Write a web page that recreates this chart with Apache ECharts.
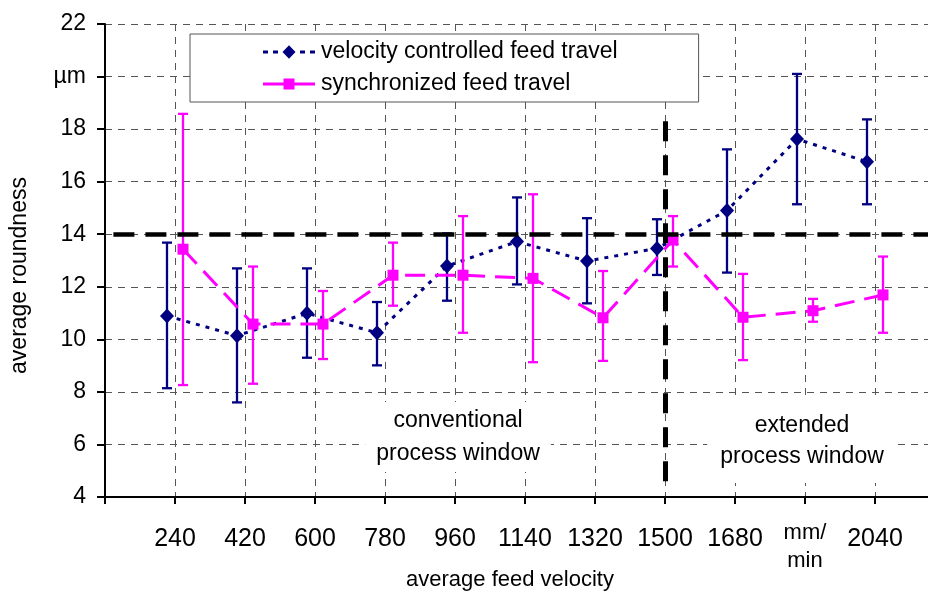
<!DOCTYPE html>
<html>
<head>
<meta charset="utf-8">
<script src="https://cdn.jsdelivr.net/npm/echarts@6/dist/echarts.min.js"></script>
<style>
  html, body { margin: 0; padding: 0; background: #fff; }
  #chart { width: 928px; height: 594px; }
</style>
</head>
<body>
<div id="chart"></div>
<script>
// ---------------- data ----------------
const categories = ['240', '420', '600', '780', '960', '1140', '1320', '1500', '1680', '1860', '2040'];
const xTickLabels = ['240', '420', '600', '780', '960', '1140', '1320', '1500', '1680', 'mm/\nmin', '2040'];
const yTicks = [4, 6, 8, 10, 12, 14, 16, 18, 20, 22];
const yTickLabels = ['4', '6', '8', '10', '12', '14', '16', '18', 'µm', '22'];

const velocityName = 'velocity controlled feed travel';
const velocityMean = [10.89, 10.14, 10.99, 10.25, 12.79, 13.72, 12.98, 13.46, 14.90, 17.62, 16.76];
const velocityLow  = [8.14, 7.60, 9.30, 9.01, 11.47, 12.09, 11.37, 12.45, 12.54, 15.14, 15.14];
const velocityHigh = [13.68, 12.70, 12.70, 11.42, 14.03, 15.40, 14.61, 14.57, 17.23, 20.10, 18.37];

const syncName = 'synchronized feed travel';
const syncMean = [13.43, 10.58, 10.58, 12.44, 12.44, 12.32, 10.82, 13.78, 10.84, 11.09, 11.69];
const syncLow  = [8.26, 8.31, 9.25, 11.28, 10.25, 9.13, 9.18, 12.77, 9.21, 10.67, 10.25];
const syncHigh = [18.58, 12.77, 11.84, 13.68, 14.69, 15.52, 12.60, 14.69, 12.49, 11.54, 13.15];

const roundnessLimit = 14;               // horizontal reference line value
const windowSplitCategory = '1500';      // vertical boundary between process windows
const windowSplitRange = [4.3, 18.3];    // vertical extent of that boundary line

// ---------------- chart ----------------
const FONT = 'Liberation Sans, Arial, Helvetica, sans-serif';
const NAVY = '#000080';
const MAGENTA = '#FF00FF';

function buildData(mean, low, high) {
  return categories.map((c, i) => [i, mean[i], low[i], high[i]]);
}

function makeRender(mean, color, offset, marker, lineDash, lineWidth) {
  return function (params, api) {
    const idx = params.dataIndex;
    const xi = api.value(0);
    const c = api.coord([xi, api.value(1)]);
    const lo = api.coord([xi, api.value(2)]);
    const hi = api.coord([xi, api.value(3)]);
    const x = c[0] + offset;
    const y = c[1];
    const children = [];
    if (idx === 0) {
      const pts = mean.map((v, k) => {
        const p = api.coord([k, v]);
        return [p[0] + offset, p[1]];
      });
      children.push({
        type: 'polyline', z2: 0,
        shape: { points: pts },
        style: { stroke: color, lineWidth: lineWidth, lineDash: lineDash, fill: null }
      });
    }
    const eb = { stroke: color, lineWidth: 2.3 };
    children.push({ type: 'line', z2: 1, shape: { x1: x, y1: hi[1], x2: x, y2: lo[1] }, style: eb });
    children.push({ type: 'line', z2: 1, shape: { x1: x - 5, y1: hi[1], x2: x + 5, y2: hi[1] }, style: eb });
    children.push({ type: 'line', z2: 1, shape: { x1: x - 5, y1: lo[1], x2: x + 5, y2: lo[1] }, style: eb });
    if (marker === 'diamond') {
      children.push({
        type: 'polygon', z2: 2,
        shape: { points: [[x, y - 7.5], [x + 7, y], [x, y + 7.5], [x - 7, y]] },
        style: { fill: color }
      });
    } else {
      children.push({
        type: 'rect', z2: 2,
        shape: { x: x - 5.5, y: y - 5.5, width: 11, height: 11 },
        style: { fill: color }
      });
    }
    return { type: 'group', children: children };
  };
}

const splitIndex = categories.indexOf(windowSplitCategory);

const chart = echarts.init(document.getElementById('chart'), null, { renderer: 'canvas' });

const option = {
  animation: false,
  backgroundColor: '#fff',
  textStyle: { fontFamily: FONT, color: '#000' },
  grid: { left: 105, top: 24, width: 840, bottom: 97, containLabel: false, outerBoundsMode: 'none' },
  legend: {
    orient: 'vertical',
    left: 190, top: 34,
    padding: [5, 81, 5, 73],
    backgroundColor: '#fff',
    borderColor: '#555',
    borderWidth: 1,
    itemWidth: 54, itemHeight: 14,
    itemGap: 6,
    selectedMode: false,
    textStyle: { fontFamily: FONT, fontSize: 23, color: '#000', lineHeight: 26 },
    data: [
      {
        name: velocityName,
        icon: 'path://M0,0h0.01v0.01h-0.01z M0,5.5h5v3h-5z M10,5.5h5v3h-5z M26,0.3L32.5,7L26,13.7L19.5,7z M37,5.5h5v3h-5z M47,5.5h5v3h-5z M52,14h-0.01v-0.01h0.01z',
        itemStyle: { color: NAVY, borderWidth: 0 }
      },
      {
        name: syncName,
        icon: 'path://M0,0h0.01v0.01h-0.01z M0,5.5h21v3h-21z M20.5,1.5h11v11h-11z M31,5.5h21v3h-21z M52,14h-0.01v-0.01h0.01z',
        itemStyle: { color: MAGENTA, borderWidth: 0 }
      }
    ]
  },
  xAxis: {
    type: 'value',
    min: -1, max: 11, interval: 1,
    name: 'average feed velocity',
    nameLocation: 'middle',
    nameGap: 72,
    nameMoveOverlap: false,
    nameTextStyle: { fontFamily: FONT, fontSize: 22, color: '#000', padding: [0, 30, 0, 0] },
    axisLine: { onZero: false, lineStyle: { color: '#000', width: 2 } },
    axisTick: { show: true, length: 7, lineStyle: { color: '#000', width: 2 } },
    axisLabel: {
      margin: 22,
      color: '#000',
      fontFamily: FONT,
      showMinLabel: true, showMaxLabel: true,
      formatter: function (v) {
        const i = Math.round(v);
        if (Math.abs(v - i) > 1e-6 || i < 0 || i >= xTickLabels.length) return '';
        const t = xTickLabels[i];
        if (t.indexOf('\n') >= 0) return t.split('\n').map(s => '{u|' + s + '}').join('\n');
        return '{n|' + t + '}';
      },
      rich: {
        n: { fontFamily: FONT, fontSize: 25, lineHeight: 40, color: '#000' },
        u: { fontFamily: FONT, fontSize: 22, lineHeight: 28, color: '#000' }
      }
    },
    splitLine: { show: true, lineStyle: { color: '#555', width: 1, type: [7, 6] } }
  },
  yAxis: {
    type: 'value',
    min: 4, max: 22, interval: 2,
    name: 'average roundness',
    nameLocation: 'middle',
    nameGap: 74,
    nameRotate: 90,
    nameMoveOverlap: false,
    nameTextStyle: { fontFamily: FONT, fontSize: 23, color: '#000', padding: [0, 30, 0, 0] },
    axisLine: { show: true, onZero: false, lineStyle: { color: '#000', width: 2 } },
    axisTick: { show: true, length: 8, lineStyle: { color: '#000', width: 2 } },
    axisLabel: {
      margin: 19,
      color: '#000',
      fontFamily: FONT,
      fontSize: 23,
      formatter: function (v) {
        const k = yTicks.indexOf(Math.round(v));
        return k >= 0 ? yTickLabels[k] : '';
      }
    },
    splitLine: { show: true, lineStyle: { color: '#555', width: 1, type: [7, 6] } }
  },
  graphic: [
    {
      type: 'text', z: 5,
      x: 458, y: 437,
      style: {
        text: 'conventional\nprocess window',
        align: 'center', verticalAlign: 'middle',
        font: '23px ' + FONT,
        lineHeight: 33,
        fill: '#000',
        backgroundColor: '#fff',
        padding: [2, 11, 2, 11]
      }
    },
    {
      type: 'text', z: 5,
      x: 802, y: 441,
      style: {
        text: 'extended\nprocess window',
        align: 'center', verticalAlign: 'middle',
        font: '23px ' + FONT,
        lineHeight: 31,
        fill: '#000',
        backgroundColor: '#fff',
        padding: [10, 13, 12, 13]
      }
    }
  ],
  series: [
    {
      type: 'line',
      name: 'reference lines',
      data: [],
      silent: true,
      z: 1,
      markLine: {
        silent: true,
        symbol: 'none',
        label: { show: false },
        data: [
          [
            { coord: [-0.88, roundnessLimit], lineStyle: { color: '#000', width: 4.5, type: [21, 11] } },
            { coord: [11, roundnessLimit] }
          ],
          [
            { coord: [splitIndex, windowSplitRange[1]], lineStyle: { color: '#000', width: 5, type: [20, 14] } },
            { coord: [splitIndex, windowSplitRange[0]] }
          ]
        ]
      }
    },
    {
      type: 'custom',
      name: velocityName,
      z: 3,
      clip: false,
      itemStyle: { color: NAVY },
      data: buildData(velocityMean, velocityLow, velocityHigh),
      renderItem: makeRender(velocityMean, NAVY, -8, 'diamond', [4, 6], 3)
    },
    {
      type: 'custom',
      name: syncName,
      z: 4,
      clip: false,
      itemStyle: { color: MAGENTA },
      data: buildData(syncMean, syncLow, syncHigh),
      renderItem: makeRender(syncMean, MAGENTA, 8, 'square', [20, 10], 3)
    }
  ]
};

chart.setOption(option);
</script>
</body>
</html>
